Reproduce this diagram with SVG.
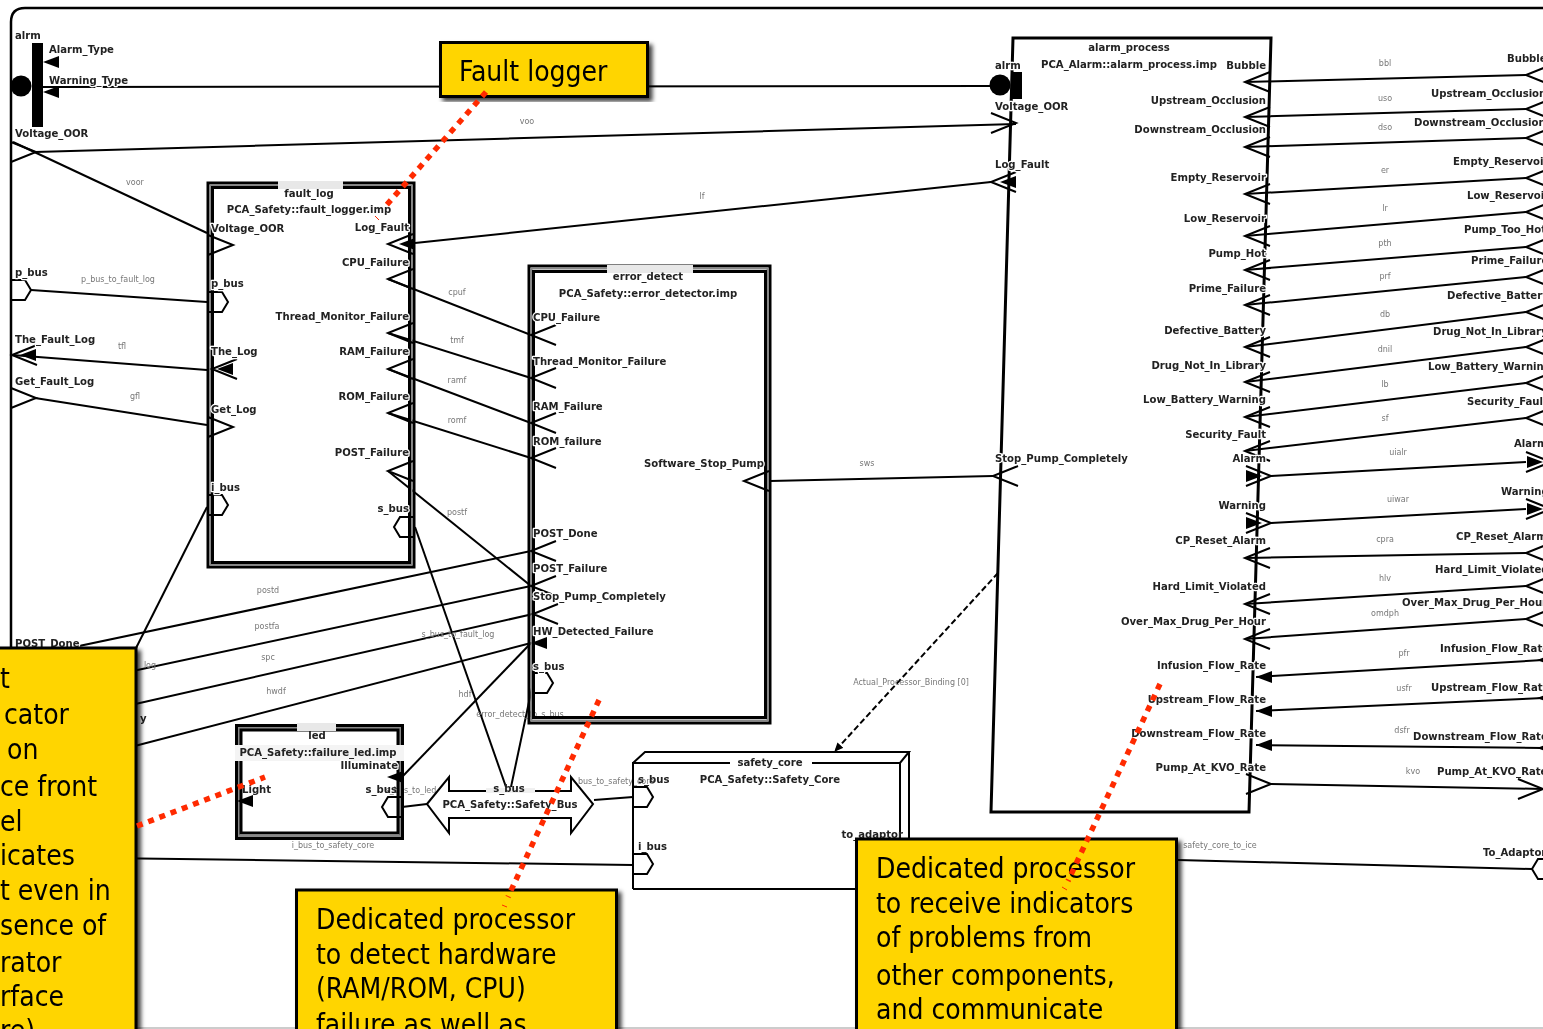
<svg xmlns="http://www.w3.org/2000/svg" xmlns:xlink="http://www.w3.org/1999/xlink" width="1543" height="1029" viewBox="0 0 1543 1029">
<style>
text{font-family:"DejaVu Sans","Liberation Sans",sans-serif}
.soft{filter:url(#soft)}
.l{font-size:10.1px;font-weight:700;fill:#222;stroke:#fff;stroke-width:2.5px;paint-order:stroke;stroke-linejoin:round}
.n{font-size:10.1px;font-weight:700;fill:#222}
.e{font-size:8px;fill:#777}
.m{text-anchor:middle}
.r{text-anchor:end}
.w{fill:none;stroke:#000;stroke-width:2}
.c{fill:none;stroke:#000;stroke-width:2}
.f{fill:#000;stroke:none}
.box{fill:#ffd500;stroke:#000;stroke-width:3;filter:url(#shadow)}
.t{font-size:28px;font-stretch:condensed;fill:#000}
.red{fill:none;stroke:#ff2a00;stroke-width:5.5;stroke-dasharray:6 6}
.thin{fill:none;stroke:#ff2a00;stroke-width:1}
.o1{fill:none;stroke:#000;stroke-width:3}
.o2{fill:none;stroke:#888;stroke-width:2}
</style>
<defs>
<filter id="soft" x="-5%" y="-5%" width="110%" height="110%"><feGaussianBlur stdDeviation="0.45"/></filter>
<filter id="shadow" x="-10%" y="-10%" width="120%" height="120%"><feDropShadow dx="3.5" dy="3.5" stdDeviation="2" flood-color="#000" flood-opacity="0.75"/></filter>
<path id="cl" class="w" d="M25,-10 L0,0 L25,10"/>
<path id="cr" class="w" d="M-25,-10 L0,0 L-25,10"/>
<path id="fl" class="f" d="M16,-6 L0,0 L16,6Z"/>
<path id="fr" class="f" d="M-16,-6 L0,0 L-16,6Z"/>
<path id="hr" class="w" d="M0,-10 H14 L20,0 L14,10 H0"/>
<path id="hl" class="w" d="M0,-10 H-14 L-20,0 L-14,10 H0"/>
<marker id="ah" markerWidth="10" markerHeight="10" refX="8" refY="4" orient="auto" markerUnits="userSpaceOnUse"><path d="M0,0 L9,4 L0,8Z" fill="#000"/></marker>
</defs>

<g id="frame" class="soft">
<path class="w" style="stroke-width:2.5" d="M11,1029 V22 Q11,8 25,8 H1545"/>
<path fill="none" stroke="#999" stroke-width="1" d="M0,1028 H1543"/>
</g>

<g id="connectors" class="soft">
<g class="c">
<path d="M43,87 L990,86"/>
<path d="M35,152 L1016,124"/>
<path d="M13,142 L207,233"/>
<path d="M31,290 L207,302"/>
<path d="M12,355 L207,370"/>
<path d="M35,398 L207,425"/>
<path d="M207,507 L130,660"/>
<path d="M415,243 L991,182"/>
<path d="M388,279 L531,335"/>
<path d="M388,333 L531,378"/>
<path d="M388,369 L531,423"/>
<path d="M388,413 L531,458"/>
<path d="M388,471 L531,586"/>
<path d="M60,650 L531,551"/>
<path d="M100,678 L531,586"/>
<path d="M100,712 L533,614"/>
<path d="M100,755 L531,643"/>
<path d="M415,527 L506,787"/>
<path d="M533,683 L511,787"/>
<path d="M402,777 L531,643"/>
<path d="M402,807 L427,804"/>
<path d="M594,800 L633,797"/>
<path d="M100,858 L633,865"/>
<path d="M770,481 L993,476"/>
<path d="M1100,858 L1532,869"/>
<path d="M1245,82 L1526,75"/>
<path d="M1245,117 L1526,109"/>
<path d="M1245,147 L1526,138"/>
<path d="M1245,194 L1526,178"/>
<path d="M1245,236 L1526,212"/>
<path d="M1245,270 L1526,247"/>
<path d="M1245,305 L1526,277"/>
<path d="M1245,347 L1526,312"/>
<path d="M1245,382 L1526,347"/>
<path d="M1245,417 L1526,383"/>
<path d="M1245,451 L1526,418"/>
<path d="M1271,476 L1526,462"/>
<path d="M1271,523 L1526,509"/>
<path d="M1245,558 L1526,553"/>
<path d="M1245,604 L1526,586"/>
<path d="M1245,639 L1526,619"/>
<path d="M1256,677 L1543,660"/>
<path d="M1256,711 L1543,698"/>
<path d="M1256,745 L1543,748"/>
<path d="M1271,784 L1543,789"/>
</g>
<path class="c" style="stroke-dasharray:6 3" d="M998,573 L835,751" marker-end="url(#ah)"/>
<g class="e">
<text x="527" y="124" class="m">voo</text>
<text x="135" y="185" class="m">voor</text>
<text x="118" y="282" class="m">p_bus_to_fault_log</text>
<text x="122" y="349" class="m">tfl</text>
<text x="135" y="399" class="m">gfl</text>
<text x="702" y="199" class="m">lf</text>
<text x="457" y="295" class="m">cpuf</text>
<text x="457" y="343" class="m">tmf</text>
<text x="457" y="383" class="m">ramf</text>
<text x="457" y="423" class="m">romf</text>
<text x="457" y="515" class="m">postf</text>
<text x="268" y="593" class="m">postd</text>
<text x="267" y="629" class="m">postfa</text>
<text x="268" y="660" class="m">spc</text>
<text x="276" y="694" class="m">hwdf</text>
<text x="458" y="637" class="m">s_bus_to_fault_log</text>
<text x="465" y="697" class="m">hdf</text>
<text x="520" y="717" class="m">error_detect_to_s_bus</text>
<text x="150" y="668" class="m">log</text>
<text x="333" y="848" class="m">i_bus_to_safety_core</text>
<text x="411" y="793" class="m">s_bus_to_led</text>
<text x="612" y="784" class="m">s_bus_to_safety_core</text>
<text x="867" y="466" class="m">sws</text>
<text x="911" y="685" class="m">Actual_Processor_Binding [0]</text>
<text x="1385" y="66" class="m">bbl</text>
<text x="1385" y="101" class="m">uso</text>
<text x="1385" y="130" class="m">dso</text>
<text x="1385" y="173" class="m">er</text>
<text x="1385" y="211" class="m">lr</text>
<text x="1385" y="246" class="m">pth</text>
<text x="1385" y="279" class="m">prf</text>
<text x="1385" y="317" class="m">db</text>
<text x="1385" y="352" class="m">dnil</text>
<text x="1385" y="387" class="m">lb</text>
<text x="1385" y="421" class="m">sf</text>
<text x="1398" y="455" class="m">uialr</text>
<text x="1398" y="502" class="m">uiwar</text>
<text x="1385" y="542" class="m">cpra</text>
<text x="1385" y="581" class="m">hlv</text>
<text x="1385" y="616" class="m">omdph</text>
<text x="1404" y="656" class="m">pfr</text>
<text x="1404" y="691" class="m">usfr</text>
<text x="1402" y="733" class="m">dsfr</text>
<text x="1413" y="774" class="m">kvo</text>
<text x="1220" y="848" class="m">safety_core_to_ice</text>
</g>
</g>

<g id="root_ports" class="soft">
<rect x="32" y="43" width="11" height="84" fill="#000"/>
<circle cx="21" cy="86" r="10.5" fill="#000"/>
<use xlink:href="#fl" href="#fl" x="43" y="62"/>
<use xlink:href="#fl" href="#fl" x="43" y="92"/>
<use href="#cr" x="36" y="152"/>
<use href="#hr" x="11" y="290"/>
<use href="#cl" x="12" y="355"/>
<use href="#fl" x="20" y="355"/>
<use href="#cr" x="36" y="398"/>
<text class="l" x="15" y="39">alrm</text>
<text class="l" x="49" y="53">Alarm_Type</text>
<text class="l" x="49" y="84">Warning_Type</text>
<text class="l" x="15" y="137">Voltage_OOR</text>
<text class="l" x="15" y="276">p_bus</text>
<text class="l" x="15" y="343">The_Fault_Log</text>
<text class="l" x="15" y="385">Get_Fault_Log</text>
<text class="l" x="15" y="647">POST_Done</text>
<text class="l" x="140" y="722">y</text>
<use href="#cl" x="1526" y="75"/>
<use href="#cl" x="1526" y="109"/>
<use href="#cl" x="1526" y="138"/>
<use href="#cl" x="1526" y="178"/>
<use href="#cl" x="1526" y="212"/>
<use href="#cl" x="1526" y="247"/>
<use href="#cl" x="1526" y="277"/>
<use href="#cl" x="1526" y="312"/>
<use href="#cl" x="1526" y="347"/>
<use href="#cl" x="1526" y="383"/>
<use href="#cl" x="1526" y="418"/>
<use href="#cr" x="1551" y="462"/>
<use href="#fr" x="1543" y="462"/>
<use href="#cr" x="1551" y="509"/>
<use href="#fr" x="1543" y="509"/>
<use href="#cl" x="1526" y="553"/>
<use href="#cl" x="1526" y="586"/>
<use href="#cl" x="1526" y="619"/>
<use href="#fl" x="1537" y="660"/>
<use href="#fl" x="1537" y="698"/>
<use href="#fl" x="1537" y="748"/>
<use href="#cr" x="1543" y="789"/>
<path class="w" d="M1545,859 H1538 L1532,869 L1538,879 H1545"/>
<text class="n" x="1507" y="62">Bubble</text>
<text class="n" x="1431" y="97">Upstream_Occlusion</text>
<text class="n" x="1414" y="126">Downstream_Occlusion</text>
<text class="n" x="1453" y="165">Empty_Reservoir</text>
<text class="n" x="1467" y="199">Low_Reservoir</text>
<text class="n" x="1464" y="233">Pump_Too_Hot</text>
<text class="n" x="1471" y="264">Prime_Failure</text>
<text class="n" x="1447" y="299">Defective_Battery</text>
<text class="n" x="1433" y="335">Drug_Not_In_Library</text>
<text class="n" x="1428" y="370">Low_Battery_Warning</text>
<text class="n" x="1467" y="405">Security_Fault</text>
<text class="n" x="1514" y="447">Alarm</text>
<text class="n" x="1501" y="495">Warning</text>
<text class="n" x="1456" y="540">CP_Reset_Alarm</text>
<text class="n" x="1435" y="573">Hard_Limit_Violated</text>
<text class="n" x="1402" y="606">Over_Max_Drug_Per_Hour</text>
<text class="n" x="1440" y="652">Infusion_Flow_Rate</text>
<text class="n" x="1431" y="691">Upstream_Flow_Rate</text>
<text class="n" x="1413" y="740">Downstream_Flow_Rate</text>
<text class="n" x="1437" y="775">Pump_At_KVO_Rate</text>
<text class="n" x="1483" y="856">To_Adaptor</text>
</g>

<g id="fault_log" class="soft">
<rect x="208" y="183" width="206" height="384" class="o1"/>
<rect x="210.5" y="185.5" width="201" height="379" class="o2"/>
<rect x="212.5" y="187.5" width="197" height="375" class="o1"/>
<rect x="278" y="181" width="65" height="8" fill="#e8e8e8"/>
<text class="n m" x="309" y="197">fault_log</text>
<text class="n m" x="309" y="213">PCA_Safety::fault_logger.imp</text>
<use href="#cr" x="233" y="245"/>
<use href="#cl" x="388" y="244"/><use href="#fl" x="399" y="244"/>
<use href="#cl" x="388" y="279"/>
<use href="#hr" x="208" y="302"/>
<use href="#cl" x="388" y="333"/>
<use href="#cr" x="233" y="427"/>
<use href="#cl" x="388" y="369"/>
<use href="#cl" x="212" y="369"/>
<use href="#fl" x="217" y="369"/>
<use href="#cl" x="388" y="413"/>
<use href="#cl" x="388" y="471"/>
<use href="#hr" x="208" y="505"/>
<use href="#hl" x="414" y="527"/>
<text class="l" x="211" y="232">Voltage_OOR</text>
<text class="l" x="211" y="287">p_bus</text>
<text class="l" x="211" y="355">The_Log</text>
<text class="l" x="211" y="413">Get_Log</text>
<text class="l" x="211" y="491">i_bus</text>
<text class="l r" x="409" y="231">Log_Fault</text>
<text class="l r" x="409" y="266">CPU_Failure</text>
<text class="l r" x="409" y="320">Thread_Monitor_Failure</text>
<text class="l r" x="409" y="355">RAM_Failure</text>
<text class="l r" x="409" y="400">ROM_Failure</text>
<text class="l r" x="409" y="456">POST_Failure</text>
<text class="l r" x="409" y="512">s_bus</text>
</g>

<g id="error_detect" class="soft">
<rect x="529" y="266" width="241" height="457" class="o1"/>
<rect x="531.5" y="268.5" width="236" height="452" class="o2"/>
<rect x="533.5" y="271.5" width="232" height="446" class="o1"/>
<rect x="607" y="265" width="86" height="8" fill="#e8e8e8"/>
<text class="n m" x="648" y="280">error_detect</text>
<text class="n m" x="648" y="297">PCA_Safety::error_detector.imp</text>
<use href="#cl" x="531" y="335"/>
<use href="#cl" x="531" y="378"/>
<use href="#cl" x="531" y="423"/>
<use href="#cl" x="531" y="458"/>
<use href="#cl" x="744" y="481"/>
<use href="#cl" x="531" y="551"/>
<use href="#cl" x="531" y="586"/>
<use href="#cl" x="533" y="614"/>
<use href="#fl" x="531" y="643"/>
<use href="#hr" x="533" y="683"/>
<text class="l" x="533" y="321">CPU_Failure</text>
<text class="l" x="533" y="365">Thread_Monitor_Failure</text>
<text class="l" x="533" y="410">RAM_Failure</text>
<text class="l" x="533" y="445">ROM_failure</text>
<text class="l r" x="764" y="467">Software_Stop_Pump</text>
<text class="l" x="533" y="537">POST_Done</text>
<text class="l" x="533" y="572">POST_Failure</text>
<text class="l" x="533" y="600">Stop_Pump_Completely</text>
<text class="l" x="533" y="635">HW_Detected_Failure</text>
<text class="l" x="533" y="670">s_bus</text>
</g>

<g id="led" class="soft">
<rect x="236.5" y="725.5" width="166" height="113" class="o1"/>
<rect x="239" y="728" width="161" height="108" class="o2"/>
<rect x="241" y="730" width="157" height="103" class="o1"/>
<rect x="297" y="723" width="39" height="8" fill="#e8e8e8"/>
<rect x="235" y="745" width="169" height="16" fill="#f4f4f4"/>
<text class="n m" x="317" y="739">led</text>
<text class="n m" x="318" y="756">PCA_Safety::failure_led.imp</text>
<use href="#fl" x="387" y="777"/>
<use href="#fl" x="237" y="801"/>
<use href="#hl" x="402" y="807"/>
<text class="l r" x="398" y="769">Illuminate</text>
<text class="n" x="242" y="793">Light</text>
<text class="n r" x="397" y="793">s_bus</text>
</g>

<g id="safety_bus" class="soft">
<path d="M427,804 L449,777 V791 H571 V777 L593,804 L571,833 V818 H449 V833 Z" fill="#fff" stroke="#000" stroke-width="2"/>
<rect x="486" y="788" width="49" height="5" fill="#f0f0f0"/>
<text class="n m" x="509" y="792">s_bus</text>
<text class="n m" x="510" y="808">PCA_Safety::Safety_Bus</text>
</g>

<g id="safety_core" class="soft">
<path d="M633,889 V763 H730 M812,763 H900 L909,752 H645 L633,763 M900,763 V838 M909,752 V845 M633,889 H860" fill="none" stroke="#000" stroke-width="2"/>
<text class="n m" x="770" y="766">safety_core</text>
<text class="n m" x="770" y="783">PCA_Safety::Safety_Core</text>
<use href="#hr" x="633" y="797"/>
<use href="#hr" x="633" y="864"/>
<text class="n" x="638" y="783">s_bus</text>
<text class="n" x="638" y="850">i_bus</text>
<text class="n r" x="903" y="838">to_adaptor</text>
</g>

<g id="alarm_process" class="soft">
<path d="M1013,38 H1271 L1249,812 H991 Z" fill="none" stroke="#000" stroke-width="3"/>
<rect x="1012" y="72" width="10" height="27" fill="#000"/>
<circle cx="1000" cy="85" r="10.5" fill="#000"/>
<use href="#cr" x="1016" y="123"/>
<use href="#cl" x="991" y="182"/><use href="#fl" x="1000" y="182"/>
<use href="#cl" x="993" y="476"/>
<use href="#cl" x="1245" y="82"/>
<use href="#cl" x="1245" y="117"/>
<use href="#cl" x="1245" y="147"/>
<use href="#cl" x="1245" y="194"/>
<use href="#cl" x="1245" y="236"/>
<use href="#cl" x="1245" y="270"/>
<use href="#cl" x="1245" y="305"/>
<use href="#cl" x="1245" y="347"/>
<use href="#cl" x="1245" y="382"/>
<use href="#cl" x="1245" y="417"/>
<use href="#cl" x="1245" y="451"/>
<use href="#cr" x="1271" y="476"/><use href="#fr" x="1262" y="476"/>
<use href="#cr" x="1271" y="523"/><use href="#fr" x="1262" y="523"/>
<use href="#cl" x="1245" y="558"/>
<use href="#cl" x="1245" y="604"/>
<use href="#cl" x="1245" y="639"/>
<use href="#fl" x="1256" y="677"/>
<use href="#fl" x="1256" y="711"/>
<use href="#fl" x="1256" y="745"/>
<use href="#cr" x="1271" y="784"/>
<text class="n m" x="1129" y="51">alarm_process</text>
<text class="n m" x="1129" y="68">PCA_Alarm::alarm_process.imp</text>
<text class="l" x="995" y="69">alrm</text>
<text class="l" x="995" y="110">Voltage_OOR</text>
<text class="l" x="995" y="168">Log_Fault</text>
<text class="l" x="995" y="462">Stop_Pump_Completely</text>
<text class="l r" x="1266" y="69">Bubble</text>
<text class="l r" x="1266" y="104">Upstream_Occlusion</text>
<text class="l r" x="1266" y="133">Downstream_Occlusion</text>
<text class="l r" x="1266" y="181">Empty_Reservoir</text>
<text class="l r" x="1266" y="222">Low_Reservoir</text>
<text class="l r" x="1266" y="257">Pump_Hot</text>
<text class="l r" x="1266" y="292">Prime_Failure</text>
<text class="l r" x="1266" y="334">Defective_Battery</text>
<text class="l r" x="1266" y="369">Drug_Not_In_Library</text>
<text class="l r" x="1266" y="403">Low_Battery_Warning</text>
<text class="l r" x="1266" y="438">Security_Fault</text>
<text class="l r" x="1266" y="462">Alarm</text>
<text class="l r" x="1266" y="509">Warning</text>
<text class="l r" x="1266" y="544">CP_Reset_Alarm</text>
<text class="l r" x="1266" y="590">Hard_Limit_Violated</text>
<text class="l r" x="1266" y="625">Over_Max_Drug_Per_Hour</text>
<text class="l r" x="1266" y="669">Infusion_Flow_Rate</text>
<text class="l r" x="1266" y="703">Upstream_Flow_Rate</text>
<text class="l r" x="1266" y="737">Downstream_Flow_Rate</text>
<text class="l r" x="1266" y="771">Pump_At_KVO_Rate</text>
</g>

<g id="callout_fault_logger">
<rect class="box" x="440.5" y="42.5" width="207" height="54"/>
<text class="t" x="459" y="81">Fault logger</text>
</g>
<g id="callout_led">
<rect class="box" x="-5" y="648" width="141" height="390"/>
<text class="t" x="0" y="688">t</text>
<text class="t" x="4" y="724">cator</text>
<text class="t" x="7" y="759">on</text>
<text class="t" x="0" y="796">ce front</text>
<text class="t" x="0" y="831">el</text>
<text class="t" x="0" y="865">icates</text>
<text class="t" x="0" y="900">t even in</text>
<text class="t" x="0" y="935">sence of</text>
<text class="t" x="0" y="972">rator</text>
<text class="t" x="0" y="1006">rface</text>
<text class="t" x="0" y="1040">re)</text>
</g>
<g id="callout_error">
<rect class="box" x="296.5" y="890" width="320" height="150"/>
<text class="t" x="316" y="929">Dedicated processor</text>
<text class="t" x="316" y="964">to detect hardware</text>
<text class="t" x="316" y="998">(RAM/ROM, CPU)</text>
<text class="t" x="316" y="1034">failure as well as</text>
</g>
<g id="callout_alarm">
<rect class="box" x="856.5" y="839" width="320" height="200"/>
<text class="t" x="876" y="878">Dedicated processor</text>
<text class="t" x="876" y="913">to receive indicators</text>
<text class="t" x="876" y="947">of problems from</text>
<text class="t" x="876" y="985">other components,</text>
<text class="t" x="876" y="1019">and communicate</text>
</g>

<g id="callout_leaders">
<path class="red" d="M486,92 L383,209"/><path class="thin" d="M375,216 L379,220"/>
<path class="red" d="M137,826 L265,777"/>
<path class="red" d="M599,700 L508,897"/><path class="thin" d="M502,905 L507,907"/>
<path class="red" d="M1160,684 L1068,881"/><path class="thin" d="M1062,887 L1067,890"/>
</g>
</svg>
